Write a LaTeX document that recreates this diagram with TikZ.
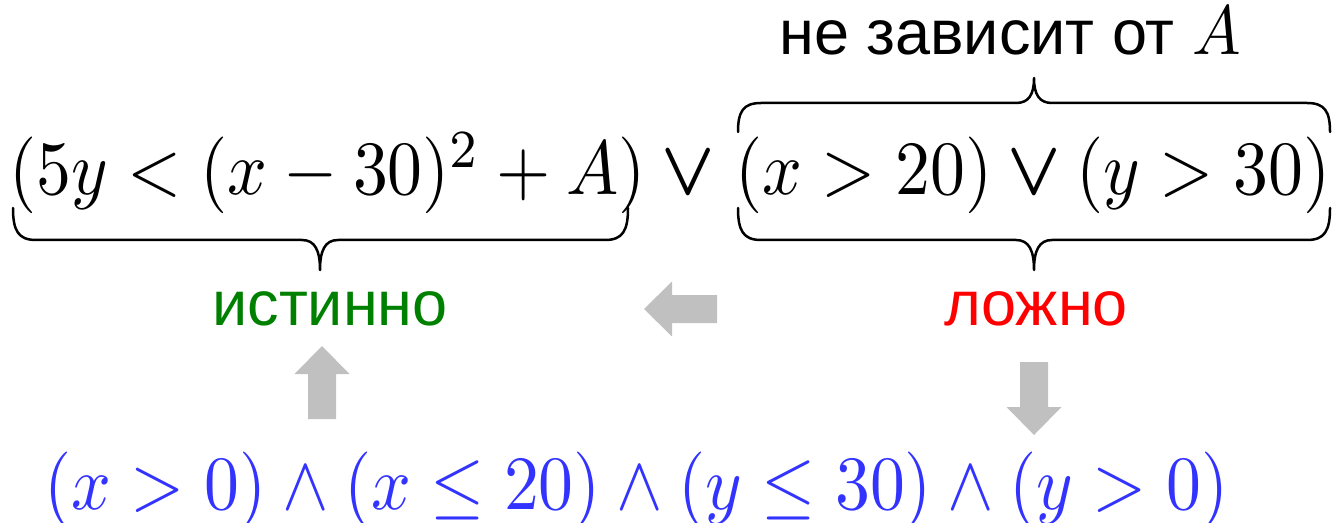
\documentclass[tikz,border=0pt]{standalone}
\usepackage{amsmath}
\usepackage{graphicx}
\usepackage{fontspec}
\newfontfamily\labelsans{Liberation Sans}
\definecolor{condblue}{HTML}{3333FF}
\definecolor{truegreen}{HTML}{008000}
\definecolor{falsered}{HTML}{FF0000}
\definecolor{arrowgray}{HTML}{C0C0C0}
\tikzset{
  formula/.style={inner sep=0pt, anchor=base},
  wordlbl/.style={inner sep=0pt, anchor=base, font=\labelsans\fontsize{63bp}{75bp}\selectfont},
  bracestyle/.style={line width=2.5bp, line cap=round, line join=round},
  blockarrow/.style={fill=arrowgray},
}
% brace: #1 xL, #2 xR, #3 y of ends, #4 y of line, #5 y of tip, #6 x of tip
\newcommand\mybrace[6]{%
  \draw[bracestyle] (#1,#3) .. controls (#1,{#3+0.7*(#4-#3)}) and ({#1+5},#4) .. ({#1+23},#4)
    -- ({#6-18},#4) .. controls ({#6-5},#4) and (#6,{#4+0.35*(#5-#4)}) .. (#6,#5)
    .. controls (#6,{#4+0.35*(#5-#4)}) and ({#6+5},#4) .. ({#6+18},#4)
    -- ({#2-23},#4) .. controls ({#2-5},#4) and (#2,{#3+0.7*(#4-#3)}) .. (#2,#3);}
% block arrow: tip at (#1,#2), direction #3
\newcommand\grayarrow[3]{%
  \fill[blockarrow, shift={(#1,#2)}, rotate=#3]
    (0,0) -- (-28,-27.5) -- (-28,-14) -- (-73,-14) -- (-73,14) -- (-28,14) -- (-28,27.5) -- cycle;}
\newcommand\yst[1]{\scalebox{7}[7.7]{\fontsize{10bp}{12bp}\selectfont #1}}
\begin{document}
\begin{tikzpicture}[x=1bp,y=-1bp]
\useasboundingbox (0,0) rectangle (1333,523);
% header
\node[wordlbl] (dep) at (1010,55) {не зависит от \scalebox{6.5}[7]{\fontsize{10bp}{12bp}\selectfont$A$}};
% main formula
\node[formula] (L) at (327.5,195) {\yst{$(5y<(x-30)^2+A)$}};
\node[formula] (V) at (688.5,195) {\yst{$\boldsymbol{\vee}$}};
\node[formula] (R) at (1033,195) {\yst{$(x>20)\mathbin{\boldsymbol{\vee}}(y>30)$}};
% braces
\mybrace{13}{628}{208}{240}{270}{320}
\mybrace{738}{1330}{208}{240}{270}{1034}
\mybrace{738}{1330}{132}{103}{78}{1034}
% labels
\node[wordlbl, text=truegreen] (T) at (330,325) {истинно};
\node[wordlbl, text=falsered] (F) at (1036,325) {ложно};
% block arrows
\grayarrow{644}{309}{180}
\grayarrow{322}{346}{90}
\grayarrow{1034}{435}{-90}
% bottom condition
\node[formula, text=condblue] (C) at (636.5,509) {\yst{$(x>0)\wedge(x\le 20)\wedge(y\le 30)\wedge(y>0)$}};
\end{tikzpicture}
\end{document}
